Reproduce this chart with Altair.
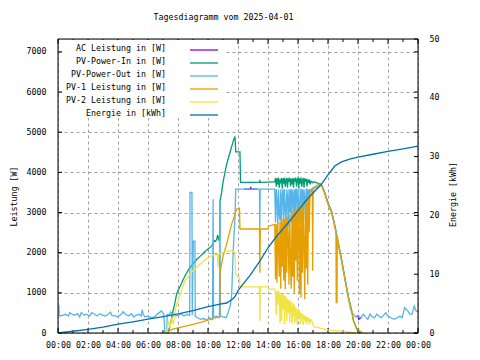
import altair as alt
import pandas as pd

# ---------------- data (hours of day, watts / kWh) ----------------
names = ["AC Leistung in [W]", "PV-Power-In in [W]", "PV-Power-Out in [W]",
         "PV-1 Leistung in [W]", "PV-2 Leistung in [W]", "Energie in [kWh]"]
colors = ["#9400D3", "#009E73", "#56B4E9", "#E69F00", "#F0E442", "#0072B2"]

hour_labels = list(range(0, 25, 2))
hour_minor = list(range(1, 24, 2))
power_ticks = list(range(0, 7001, 1000))
energy_ticks = [0, 10, 20, 30, 40, 50]

noisy_start = 14.45
noisy_step = 0.05

pv_out_a = [
    (0.00, 673), (0.07, 673), (0.08, 424), (0.30, 440), (0.50, 466), (0.70, 424), (0.78, 507), (0.95, 466),
    (1.10, 440), (1.30, 480), (1.45, 399), (1.55, 507), (1.75, 440), (1.90, 466), (2.10, 424), (2.25, 507),
    (2.45, 466), (2.60, 424), (2.80, 480), (3.00, 440), (3.15, 424), (3.35, 466), (3.50, 520), (3.60, 440),
    (3.80, 424), (4.00, 399), (4.20, 466), (4.35, 530), (4.50, 466), (4.70, 424), (4.90, 480), (5.05, 399),
    (5.20, 440), (5.40, 466), (5.55, 424), (5.62, 580), (5.68, 466), (5.80, 399), (6.00, 424), (6.20, 382),
    (6.45, 399), (6.60, 466), (6.75, 507), (6.90, 549), (7.05, 466), (7.13, 0), (7.25, 0), (7.28, 466),
    (7.40, 440), (7.50, 520), (7.65, 466), (7.80, 424), (8.00, 440), (8.20, 480), (8.40, 424), (8.60, 466),
    (8.78, 440), (8.80, 3500), (8.93, 3500), (8.95, 440), (9.02, 2290), (9.13, 2290), (9.15, 420), (9.30, 380),
    (9.50, 340), (9.70, 360), (9.90, 320), (10.10, 380), (10.30, 340), (10.34, 3330), (10.37, 400), (10.55, 420),
    (10.76, 380), (10.80, 3250), (10.83, 420), (11.00, 400), (11.20, 380), (11.33, 500), (11.50, 700), (11.58, 970),
    (11.69, 2130), (11.80, 2880), (11.85, 3580), (13.43, 3580), (13.45, 2590), (13.48, 3580), (14.40, 3580),
]
pv_out_noisy = [3580, 2750, 3580, 3300, 2700, 3580, 2950, 2800, 3580, 2680, 3450, 3580, 2800, 3580, 3100, 2720,
                3580, 3400, 2650, 3580, 3000, 3580, 2750, 3580, 3500, 2700, 3580, 2850, 3580, 3580, 2690, 3580,
                3200, 2760, 3580, 3580, 2900, 3580, 2700, 3580, 3400, 2800, 3580, 3580, 3100, 3580, 3300, 3580,
                3500, 3580, 3600]
pv_out_b = [
    (17.00, 3580), (17.10, 3600), (17.30, 3640), (17.47, 3680), (17.60, 3650), (17.80, 3460), (18.00, 3220),
    (18.25, 3000), (18.47, 2630), (18.69, 2210), (18.91, 1800), (19.13, 1340), (19.36, 880), (19.50, 600),
    (19.58, 506), (19.70, 470), (19.85, 400), (20.00, 430), (20.20, 380), (20.35, 470), (20.50, 400),
    (20.65, 340), (20.80, 470), (20.95, 400), (21.10, 380), (21.25, 470), (21.40, 420), (21.55, 380),
    (21.70, 440), (21.85, 506), (22.00, 420), (22.20, 380), (22.40, 340), (22.60, 380), (22.80, 420),
    (22.95, 380), (23.10, 630), (23.30, 560), (23.45, 470), (23.60, 470), (23.75, 670), (23.85, 560), (24.00, 520),
]
# AC power mostly lies under PV-Power-Out; only the parts where it peeks out
ac_a = [(12.40, 3580), (12.82, 3580), (12.845, 3640), (12.87, 3580), (13.30, 3580)]
ac_b = [(19.85, 400), (20.00, 430), (20.05, 340), (20.20, 380)]

pv_in_a = [
    (7.35, 0), (7.47, 200), (7.58, 380), (7.70, 600), (7.80, 760), (7.91, 970), (8.00, 1050), (8.25, 1250),
    (8.50, 1450), (8.75, 1600), (9.00, 1720), (9.25, 1830), (9.50, 1920), (9.75, 2010), (10.00, 2090),
    (10.20, 2150), (10.30, 2200), (10.40, 2300), (10.50, 2280), (10.58, 2340), (10.65, 2440), (10.72, 2300),
    (10.78, 2380), (10.80, 3290), (10.91, 3500), (11.02, 3790), (11.24, 4200), (11.47, 4500), (11.69, 4790),
    (11.80, 4890), (11.85, 4510), (12.13, 4510), (12.17, 3750), (13.43, 3750), (13.46, 3790), (13.50, 3750),
    (14.40, 3765),
]
pv_in_noisy = [3765, 3860, 3640, 3850, 3700, 3870, 3620, 3820, 3765, 3860, 3600, 3850, 3720, 3870, 3640, 3800,
               3860, 3620, 3850, 3765, 3870, 3650, 3840, 3700, 3860, 3620, 3850, 3765, 3870, 3640, 3820, 3860,
               3600, 3850, 3720, 3870, 3640, 3800, 3860, 3620, 3850, 3765, 3840, 3650, 3800, 3765, 3820, 3700,
               3780, 3765, 3740]
pv_in_b = [
    (17.00, 3760), (17.10, 3760), (17.30, 3730), (17.47, 3720), (17.60, 3670), (17.80, 3480), (18.00, 3240),
    (18.25, 3020), (18.47, 2650), (18.69, 2230), (18.91, 1820), (19.13, 1360), (19.36, 900), (19.58, 560),
    (19.69, 310), (19.91, 100), (20.13, 0),
]

pv1_a = [
    (7.30, 0), (7.40, 50), (7.60, 90), (7.80, 110), (8.00, 130), (8.50, 170), (9.00, 215), (9.50, 265),
    (10.00, 320), (10.40, 370), (10.78, 400), (10.80, 1500), (10.90, 1700), (11.00, 1900), (11.24, 2210),
    (11.40, 2450), (11.58, 2710), (11.80, 2960), (11.90, 3080), (12.00, 3100), (12.10, 3110), (12.13, 2590),
    (13.43, 2590), (13.46, 1500), (13.49, 2590), (14.00, 2590), (14.03, 2660), (14.40, 2700),
]
pv1_noisy = [2700, 1340, 2720, 1250, 2740, 2200, 1400, 2780, 1100, 2800, 1650, 2830, 1300, 2850, 1090, 2880,
             1500, 2900, 2400, 1200, 2950, 1700, 1100, 3000, 1400, 3030, 1000, 3060, 1800, 3090, 1300, 3120,
             2600, 1000, 3160, 880, 3200, 1500, 3240, 2200, 840, 3290, 1600, 3340, 1200, 3400, 2500, 3460,
             3500, 3550, 3600]
pv1_b = [
    (16.98, 1550), (17.01, 3620), (17.20, 3660), (17.47, 3720), (17.60, 3650), (17.80, 3450), (18.00, 3210),
    (18.25, 2990), (18.47, 2620), (18.53, 2480), (18.55, 760), (18.60, 760), (18.62, 2400), (18.69, 2200),
    (18.91, 1790), (19.13, 1330), (19.36, 870), (19.58, 550), (19.69, 320), (19.91, 120), (20.10, 60),
    (20.25, 15), (20.35, 0),
]

pv2_a = [
    (7.24, 0), (7.36, 300), (7.47, 130), (7.58, 380), (7.69, 215), (7.80, 505), (7.91, 715), (8.00, 800),
    (8.25, 1080), (8.47, 1300), (8.75, 1440), (9.00, 1550), (9.30, 1660), (9.58, 1750), (10.00, 1880),
    (10.30, 1930), (10.62, 1960), (10.66, 1630), (10.70, 1960), (11.00, 2000), (11.30, 2040), (11.50, 2050),
    (11.70, 2030), (11.80, 2000), (11.85, 1460), (12.00, 1400), (12.10, 1380), (12.13, 1150), (13.43, 1150),
    (13.46, 300), (13.49, 1150), (14.00, 1150), (14.03, 1090), (14.40, 1090),
]
pv2_noisy = [1090, 1000, 450, 1060, 700, 1050, 980, 250, 1000, 300, 960, 600, 980, 220, 920, 880,
             300, 850, 500, 820, 260, 800, 680, 230, 760, 420, 700, 250, 640, 500, 200, 600,
             380, 560, 220, 500, 350, 470, 200, 450, 300, 420, 220, 400, 320, 380, 210, 350,
             300, 320, 260]
pv2_b = [(17.00, 200), (17.10, 150), (17.50, 120), (18.00, 80), (18.50, 60), (19.00, 40), (19.50, 20), (19.80, 0)]

energy = [
    (0, 0), (1, 0.3), (2, 0.6), (3, 1.0), (4, 1.5), (5, 1.9), (6, 2.35), (7, 2.8), (8, 3.27), (9, 3.8),
    (10, 4.5), (10.8, 4.9), (11.24, 5.1), (11.58, 5.65), (11.8, 6.2), (12.0, 7.2), (12.36, 8.4), (12.8, 9.8),
    (13.5, 12.4), (14, 14.5), (14.5, 16.2), (15, 17.7), (15.53, 19.3), (16, 20.8), (16.5, 22.4), (17, 23.8),
    (17.53, 25.2), (18, 26.9), (18.45, 28.4), (18.9, 29.1), (19.5, 29.6), (20, 29.9), (21, 30.4), (22, 30.9),
    (23, 31.3), (24, 31.8),
]


def series(a, noisy, b):
    pts = list(a) + [(round(noisy_start + noisy_step * i, 3), v) for i, v in enumerate(noisy)] + list(b)
    return pd.DataFrame(pts, columns=["t", "v"]).assign(seg=0)


df_out = series(pv_out_a, pv_out_noisy, pv_out_b)
df_ac = pd.concat([pd.DataFrame(ac_a, columns=["t", "v"]).assign(seg=0),
                   pd.DataFrame(ac_b, columns=["t", "v"]).assign(seg=1)])
df_in = series(pv_in_a, pv_in_noisy, pv_in_b)
df_pv1 = series(pv1_a, pv1_noisy, pv1_b)
df_pv2 = series(pv2_a, pv2_noisy, pv2_b)
df_e = pd.DataFrame(energy, columns=["t", "e"])

# ---------------- styling ----------------
W, H = 360, 294
SW = 1.3
FONT = "DejaVu Sans Mono"
FS = 8.3
GRID = "#a0a0a0"

xscale = alt.Scale(domain=[0, 24], nice=False, zero=False)
pscale = alt.Scale(domain=[0, 7320], nice=False)
escale = alt.Scale(domain=[0, 50], nice=False)

lab = dict(labelFont=FONT, labelFontSize=FS, labelColor="black", labelFontWeight="normal",
           titleFont=FONT, titleFontSize=FS, titleColor="black", titleFontWeight="normal")

xaxis = alt.Axis(values=hour_labels,
                 labelExpr="(datum.value % 24 < 10 ? '0' : '') + (datum.value % 24) + ':00'",
                 title=None, grid=True, gridDash=[3, 3], gridColor=GRID, gridWidth=1,
                 domain=False, ticks=False, tickSize=0, labelPadding=7, labelFlush=False,
                 labelOverlap=False, **lab)
pyaxis = alt.Axis(values=power_ticks, format="d", title="Leistung [W]", titleX=-44, titleY=157,
                  titleAngle=270, titleBaseline="middle", titleAlign="center",
                  grid=True, gridDash=[3, 3], gridColor=GRID, gridWidth=1,
                  domain=False, ticks=False, tickSize=0, labelPadding=12, labelFlush=False, **lab)
eaxis = alt.Axis(orient="right", values=energy_ticks, title="Energie [kWh]", titleX=35, titleY=155,
                 titleAngle=270, titleBaseline="middle", titleAlign="center",
                 grid=False, domain=False, ticks=False, tickSize=0, labelPadding=11, labelFlush=False, **lab)

X = alt.X("t:Q", scale=xscale, axis=xaxis)


def pline(df, color):
    return alt.Chart(df).mark_line(color=color, strokeWidth=SW).encode(
        x=X, y=alt.Y("v:Q", scale=pscale, axis=pyaxis), detail="seg:N")


def pticks(x1, x2):
    return alt.Chart(pd.DataFrame({"v": power_ticks})).mark_rule(color="black", strokeWidth=1).encode(
        y=alt.Y("v:Q", scale=pscale, axis=pyaxis), x=alt.value(x1), x2=alt.value(x2))


def xticks(vals, y1, y2):
    return alt.Chart(pd.DataFrame({"t": vals})).mark_rule(color="black", strokeWidth=1).encode(
        x=X, y=alt.value(y1), y2=alt.value(y2))


power_group = alt.layer(
    pticks(0, 4), pticks(W - 4, W),
    xticks(hour_labels, H, H - 5), xticks(hour_minor, H, H - 3),
    xticks(hour_labels, 0, 5), xticks(hour_minor, 0, 3),
    pline(df_ac, colors[0]), pline(df_in, colors[1]), pline(df_out, colors[2]),
    pline(df_pv1, colors[3]), pline(df_pv2, colors[4]),
)

eticks = alt.Chart(pd.DataFrame({"e": energy_ticks})).mark_rule(color="black", strokeWidth=1).encode(
    y=alt.Y("e:Q", scale=escale, axis=eaxis), x=alt.value(W - 4), x2=alt.value(W))
eline = alt.Chart(df_e).mark_line(color=colors[5], strokeWidth=SW).encode(
    x=X, y=alt.Y("e:Q", scale=escale, axis=eaxis))
energy_group = alt.layer(eticks, eline)

one = pd.DataFrame({"a": [0]})
legend_df = pd.DataFrame({"name": names, "row": list(range(len(names)))})

legend_bg = alt.Chart(one).mark_rect(color="white").encode(
    x=alt.value(5), x2=alt.value(168), y=alt.value(1), y2=alt.value(79))
legend_rules = alt.Chart(legend_df).transform_calculate(ly="11 + 13 * datum.row").mark_rule(
    strokeWidth=SW).encode(
    x=alt.value(132), x2=alt.value(160), y=alt.Y("ly:Q", scale=None, axis=None),
    color=alt.Color("name:N", scale=alt.Scale(domain=names, range=colors), legend=None))
legend_text = alt.Chart(legend_df).transform_calculate(ty="9.5 + 13 * datum.row").mark_text(
    align="right", baseline="middle", font=FONT, fontSize=FS, color="black").encode(
    x=alt.value(108), y=alt.Y("ty:Q", scale=None, axis=None), text="name:N")

title = alt.Chart(one).mark_text(text="Tagesdiagramm vom 2025-04-01", align="center", baseline="middle",
                                 font=FONT, fontSize=FS, color="black").encode(
    x=alt.value(165.5), y=alt.value(-21.5))

border = alt.Chart(one).mark_rect(filled=False, color="black", strokeWidth=1).encode(
    x=alt.value(0), x2=alt.value(W), y=alt.value(0), y2=alt.value(H))

chart = alt.layer(
    power_group, energy_group, legend_bg, legend_rules, legend_text, title, border
).resolve_scale(y="independent").properties(
    width=W, height=H,
    autosize=alt.AutoSizeParams(type="none"),
    padding={"left": 50, "top": 31, "right": 54, "bottom": 19},
).configure_view(strokeWidth=0).configure(font=FONT)

chart.save("out.html", embed_options={"renderer": "svg", "actions": False})
